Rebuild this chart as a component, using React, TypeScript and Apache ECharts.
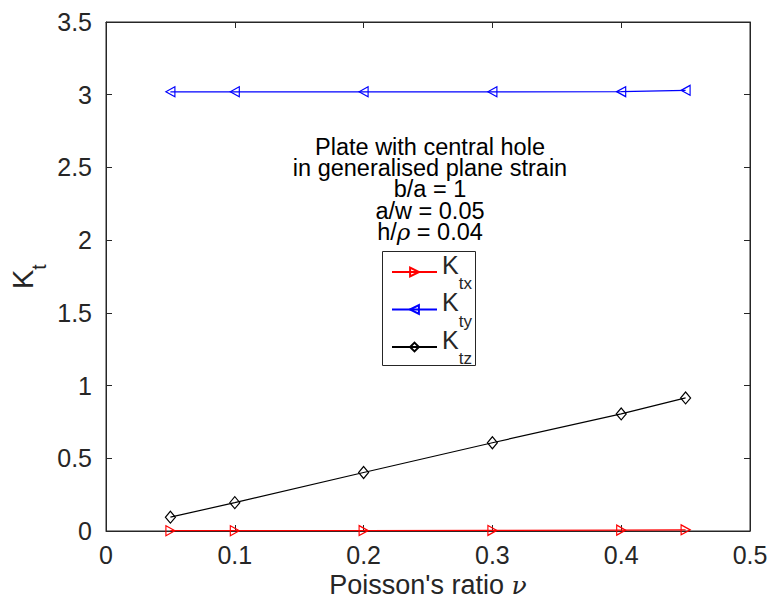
import React, { useEffect, useRef } from "react";
import * as echarts from "echarts";

const nu = [0.05, 0.1, 0.2, 0.3, 0.4, 0.45];
const ktx = [0.002, 0.002, 0.003, 0.004, 0.006, 0.008];
const kty = [3.02, 3.02, 3.02, 3.02, 3.021, 3.03];
const ktz = [0.095, 0.195, 0.402, 0.607, 0.805, 0.915];
const seriesNames = ["Ktx", "Kty", "Ktz"];
const subscripts = ["tx", "ty", "tz"];
const noteLines = [
  "Plate with central hole",
  "in generalised plane strain",
  "b/a = 1",
  "a/w = 0.05",
];

const FONT = "'Liberation Sans', Arial, Helvetica, sans-serif";
const SERIF = "'DejaVu Serif', 'Liberation Serif', serif";
const AX = "#262626";

export default function App() {
  const ref = useRef<HTMLDivElement>(null);
  useEffect(() => {
    if (!ref.current) return;
    const chart = echarts.init(ref.current, undefined, { renderer: "svg" });
    const pair = (ys: number[]) => nu.map((x, i) => [x, ys[i]]);
    const axisCommon = {
      type: "value" as const,
      show: true,
      axisLine: { show: true, onZero: false, lineStyle: { color: AX, width: 1 } },
      axisTick: { show: true, inside: true, length: 6, lineStyle: { color: AX } },
      splitLine: { show: false },
    };
    const noteText =
      noteLines.map((t) => `{a|${t}}`).join("\n") + "\n{a|h/}{b|ρ}{a| = 0.04}";
    const symbolStyle = (c: string) => ({ color: "rgba(0,0,0,0)", borderColor: c, borderWidth: 1.2 });
    const kSize = 29;
    const tSize = 19.5;
    chart.setOption({
      animation: false,
      backgroundColor: "#fff",
      grid: {
        left: 106,
        top: 22,
        width: 644,
        height: 509,
        show: true,
        borderColor: AX,
        borderWidth: 1,
        containLabel: false,
        outerBoundsMode: "none",
      },
      xAxis: [
        {
          ...axisCommon,
          min: 0,
          max: 0.5,
          interval: 0.1,
          position: "bottom",
          axisLabel: { fontSize: 25, fontFamily: FONT, color: AX, margin: 11 },
          name: "{a|Poisson's ratio }{b|ν}",
          nameLocation: "middle",
          nameGap: 34,
          nameTextStyle: {
            rich: {
              a: { fontSize: 27, fontFamily: FONT, color: AX },
              b: { fontSize: 25, fontFamily: SERIF, fontStyle: "italic", color: AX },
            },
          },
        },
        {
          ...axisCommon,
          min: 0,
          max: 0.5,
          interval: 0.1,
          position: "top",
          axisLabel: { show: false },
        },
      ],
      yAxis: [
        {
          ...axisCommon,
          min: 0,
          max: 3.5,
          interval: 0.5,
          position: "left",
          axisLabel: { fontSize: 25, fontFamily: FONT, color: AX, margin: 14 },
        },
        {
          ...axisCommon,
          min: 0,
          max: 3.5,
          interval: 0.5,
          position: "right",
          axisLabel: { show: false },
        },
      ],
      legend: {
        orient: "vertical",
        left: 391,
        top: 252,
        padding: 0,
        itemGap: -2.5,
        itemWidth: 45,
        itemHeight: 11,
        borderWidth: 0,
        data: seriesNames,
        formatter: (name: string) => `{k|K}{s|${subscripts[seriesNames.indexOf(name)]}}{z| }`,
        textStyle: {
          rich: {
            k: { fontSize: 25, fontFamily: FONT, color: AX, lineHeight: 24, verticalAlign: "top" },
            s: { fontSize: 17, fontFamily: FONT, color: AX, lineHeight: 40, verticalAlign: "bottom" },
            z: { fontSize: 1, lineHeight: 40, color: "rgba(0,0,0,0)" },
          },
        },
      },
      series: [
        {
          name: "Ktx",
          type: "line",
          data: pair(ktx),
          symbol: "triangle",
          symbolRotate: -90,
          symbolSize: [10, 9],
          lineStyle: { color: "#ff0000", width: 1.2 },
          itemStyle: symbolStyle("#ff0000"),
          z: 3,
        },
        {
          name: "Kty",
          type: "line",
          data: pair(kty),
          symbol: "triangle",
          symbolRotate: 90,
          symbolSize: [10, 9],
          lineStyle: { color: "#0000ff", width: 1.2 },
          itemStyle: symbolStyle("#0000ff"),
        },
        {
          name: "Ktz",
          type: "line",
          data: pair(ktz),
          symbol: "diamond",
          symbolSize: [10, 12],
          lineStyle: { color: "#000000", width: 1.2 },
          itemStyle: symbolStyle("#000000"),
        },
        {
          name: "frame",
          type: "line",
          xAxisIndex: 1,
          yAxisIndex: 1,
          data: [],
          silent: true,
        },
      ],
      graphic: [
        {
          type: "rect",
          shape: { x: 382.5, y: 251.5, width: 93, height: 114 },
          style: { fill: "#fff", stroke: AX, lineWidth: 1 },
          z: 1,
        },
        {
          type: "text",
          x: 430,
          y: 136,
          style: {
            text: noteText,
            textAlign: "center",
            textVerticalAlign: "top",
            rich: {
              a: { fontSize: 23.5, fontFamily: FONT, color: AX, lineHeight: 21.3 },
              b: { fontSize: 23, fontFamily: SERIF, fontStyle: "italic", color: AX, lineHeight: 21.3 },
            },
          },
        },
        {
          type: "group",
          x: 33.3,
          y: 289,
          rotation: Math.PI / 2,
          children: [
            {
              type: "text",
              x: 0,
              y: -0.3465 * kSize,
              style: {
                text: "K",
                font: `${kSize}px ${FONT}`,
                fill: AX,
                textAlign: "left",
                textVerticalAlign: "middle",
              },
            },
            {
              type: "text",
              x: 0.667 * kSize,
              y: 12.7 - 0.3465 * tSize,
              style: {
                text: "t",
                font: `${tSize}px ${FONT}`,
                fill: AX,
                textAlign: "left",
                textVerticalAlign: "middle",
              },
            },
          ],
        },
      ],
    });
    return () => chart.dispose();
  }, []);
  return (
    <div
      ref={ref}
      style={{ position: "fixed", left: 0, top: 0, width: 772, height: 601 }}
    />
  );
}
